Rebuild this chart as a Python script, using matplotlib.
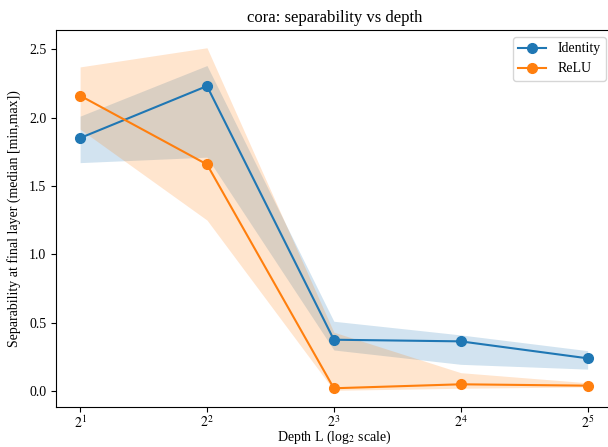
import matplotlib
matplotlib.use("Agg")
import matplotlib.pyplot as plt

plt.rcParams["font.family"] = ["Liberation Serif", "DejaVu Serif"]
plt.rcParams["mathtext.fontset"] = "stix"

# Data
depths = [2, 4, 8, 16, 32]

identity_med = [1.85, 2.23, 0.375, 0.363, 0.239]
identity_min = [1.67, 1.71, 0.30, 0.195, 0.16]
identity_max = [2.01, 2.38, 0.51, 0.41, 0.295]

relu_med = [2.16, 1.657, 0.02, 0.049, 0.039]
relu_min = [1.915, 1.25, 0.005, 0.02, 0.03]
relu_max = [2.37, 2.51, 0.43, 0.134, 0.06]

fig = plt.figure(figsize=(6.08, 4.47), dpi=100)
ax = fig.add_axes([0.0921, 0.0895, 0.9161, 0.8434])

ax.fill_between(depths, identity_min, identity_max, color="tab:blue", alpha=0.2, linewidth=0)
ax.plot(depths, identity_med, marker="o", markersize=7, color="tab:blue", label="Identity")
ax.fill_between(depths, relu_min, relu_max, color="tab:orange", alpha=0.2, linewidth=0)
ax.plot(depths, relu_med, marker="o", markersize=7, color="tab:orange", label="ReLU")

ax.set_xscale("log", base=2)
ax.set_xticks(depths)
ax.set_xticklabels([r"$2^{%d}$" % k for k in range(1, 6)])
ax.minorticks_off()
ax.set_xlim(2 ** 0.81, 2 ** 5.2)
ax.set_ylim(-0.117, 2.64)
ax.tick_params(axis="x", pad=2)

ax.set_title("cora: separability vs depth", fontsize=12)
ax.set_xlabel(r"Depth L (log$_2$ scale)", fontsize=10)
ax.xaxis.set_label_coords(0.5, -0.058)
ax.set_ylabel("Separability at final layer (median [min,max])", fontsize=10, labelpad=6)
ax.legend(loc="upper right", fontsize=10)

fig.savefig("out.png", dpi=100)
